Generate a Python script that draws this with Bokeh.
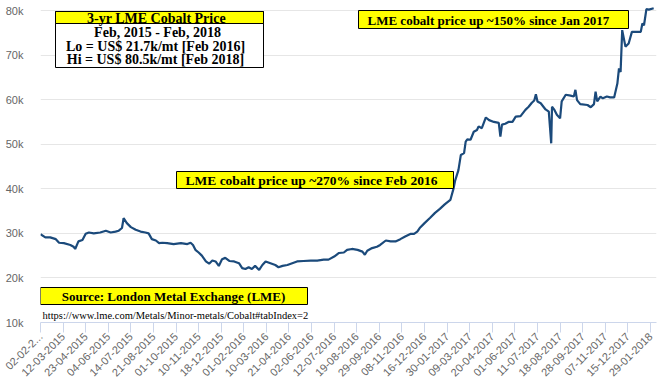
import math
from bokeh.plotting import figure
from bokeh.models import Range1d, FixedTicker, BoxAnnotation, Label, PrintfTickFormatter
from bokeh.embed import file_html
from bokeh.resources import INLINE

# ---- data (trading-day index from 02-02-2015, LME cobalt price in US$ k/mt) ----
day = [0, 6, 12, 19, 23, 29, 37, 41, 43, 47, 52, 56, 60, 66, 74, 81, 87, 93, 97, 101,
       103, 107, 112, 118, 124, 130, 134, 138, 143, 147, 151, 157, 165, 174, 182, 186,
       189, 192, 196, 200, 205, 209, 213, 217, 221, 225, 229, 234,
       240, 246, 250, 254, 258, 262, 266, 271, 275, 279, 285, 291, 295, 300, 306, 312,
       318, 326, 335, 343, 351, 357, 364, 370, 376, 380, 386, 393, 399, 402, 405, 411,
       417, 421, 428, 434, 440, 446, 452, 459, 463, 467, 470, 476, 483, 489, 495, 501,
       508, 512, 514, 518, 521, 525, 527, 529, 533, 537, 541, 543, 547, 552, 556, 562,
       568, 570, 572, 576, 580, 585, 589, 595, 601, 605, 609, 612, 614, 616, 620, 626,
       630, 633, 634, 637, 640, 644, 646, 651, 657, 661, 663, 665, 669, 678, 682, 686,
       688, 690, 694, 697, 702, 706, 711, 715, 717, 719, 721, 725, 729, 733, 744, 746,
       748, 751, 754, 760]
price_k = [29.8, 29.1, 29.1, 28.7, 27.9, 27.8, 27.4, 27.0, 26.5, 28.2, 28.5, 29.9, 30.2,
           30.0, 30.2, 30.6, 30.2, 30.4, 30.6, 31.2,
           33.4, 32.3, 31.4, 30.8, 30.4, 30.2, 30.0, 28.7, 28.4, 27.8, 27.9, 27.8, 27.6,
           27.8, 27.6, 27.9,
           27.4, 26.3, 25.7, 25.0, 23.7, 23.2, 23.9, 23.7, 22.7, 24.2, 24.5, 23.8,
           23.7, 23.3, 22.2, 22.0, 22.4, 22.0, 22.7, 21.8, 22.9, 23.7, 23.3, 22.9, 22.4,
           22.7, 22.9, 23.3,
           23.7, 23.8, 23.9, 23.9, 24.1, 24.1, 24.8, 25.6, 25.7, 26.3, 26.5, 26.3, 25.9,
           25.2, 26.1, 26.7,
           27.0, 27.4, 28.4, 28.2, 28.2, 28.7, 29.3, 29.9, 29.9, 30.4, 31.2, 32.3, 33.5,
           34.6, 35.5, 36.5,
           37.5, 40.1, 41.9, 44.2, 47.6, 48.0, 50.6, 51.1, 51.0, 52.8, 53.2, 54.0, 53.6,
           56.0, 55.4, 55.0,
           54.8, 51.7, 54.4, 54.6, 55.0, 55.0, 56.2, 56.3, 57.7, 58.4, 59.3, 59.8, 61.2,
           59.6, 59.2, 57.8,
           57.3, 50.2, 58.4, 57.7, 56.6, 55.8, 59.6, 61.1, 60.9, 60.7, 62.2, 59.9, 59.0,
           58.8, 58.3, 59.0,
           61.8, 59.6, 60.7, 60.3, 60.7, 60.5, 60.5, 63.6, 67.0, 66.2, 75.6, 71.9, 72.6,
           75.2, 75.2, 77.1,
           76.7, 80.3, 80.2, 80.5]

tick_days = [i * 28 for i in range(28)]
tick_labels = ["02-02-2...", "12-03-2015", "23-04-2015", "04-06-2015", "14-07-2015",
               "21-08-2015", "01-10-2015", "10-11-2015", "18-12-2015", "01-02-2016",
               "10-03-2016", "21-04-2016", "02-06-2016", "12-07-2016", "19-08-2016",
               "29-09-2016", "08-11-2016", "16-12-2016", "30-01-2017", "09-03-2017",
               "20-04-2017", "01-06-2017", "11-07-2017", "18-08-2017", "28-09-2017",
               "07-11-2017", "15-12-2017", "29-01-2018"]
y_ticks = [10, 20, 30, 40, 50, 60, 70, 80]

title_box = ["3-yr LME Cobalt Price", "Feb, 2015 - Feb, 2018",
             "Lo = US$ 21.7k/mt [Feb 2016]", "Hi = US$ 80.5k/mt [Feb 2018]"]
note_2017 = "LME cobalt price up ~150% since Jan 2017"
note_2016 = "LME cobalt price up ~270% since Feb 2016"
source_txt = "Source: London Metal Exchange (LME)"
url_txt = "https://www.lme.com/Metals/Minor-metals/Cobalt#tabIndex=2"

# ---- figure ----
p = figure(width=661, height=392, output_backend="svg", toolbar_location=None,
           x_range=Range1d(0, 763.5), y_range=Range1d(10, 81.35),
           min_border_left=40, min_border_right=5, min_border_top=4,
           min_border_bottom=70)
p.outline_line_color = None
p.background_fill_color = "white"
p.border_fill_color = "white"

p.line(day, price_k, line_color="#1b4a7b", line_width=2.2)

p.xgrid.grid_line_color = None
p.ygrid.grid_line_color = "#e6e6e6"
p.ygrid.ticker = FixedTicker(ticks=y_ticks)

AXIS_FONT = "Liberation Sans"
AXIS_COLOR = "#666666"

xa = p.xaxis[0]
xa.ticker = FixedTicker(ticks=tick_days, minor_ticks=[])
xa.major_label_overrides = {d: s for d, s in zip(tick_days, tick_labels)}
xa.major_label_orientation = math.pi / 4
xa.axis_line_color = "#ccd6eb"
xa.major_tick_line_color = "#ccd6eb"
xa.major_tick_out = 10
xa.major_tick_in = 0
xa.minor_tick_line_color = None
xa.major_label_text_font = AXIS_FONT
xa.major_label_text_font_size = "11px"
xa.major_label_text_color = AXIS_COLOR
xa.major_label_standoff = 2

ya = p.yaxis[0]
ya.ticker = FixedTicker(ticks=y_ticks, minor_ticks=[])
ya.formatter = PrintfTickFormatter(format="%dk")
ya.axis_line_color = None
ya.major_tick_line_color = None
ya.minor_tick_line_color = None
ya.major_tick_out = 0
ya.major_tick_in = 0
ya.major_label_text_font = AXIS_FONT
ya.major_label_text_font_size = "11px"
ya.major_label_text_color = AXIS_COLOR
ya.major_label_standoff = 17

# ---- annotations (positions in page pixels, converted to frame screen units) ----
FL, FB = 40, 322
def sx(X):
    return X - FL
def sy(Y):
    return FB - Y

def box(x0, x1, y0, y1, fill):
    p.add_layout(BoxAnnotation(left=sx(x0), right=sx(x1), top=sy(y0), bottom=sy(y1),
                               left_units="screen", right_units="screen",
                               top_units="screen", bottom_units="screen",
                               fill_color=fill, fill_alpha=1.0,
                               line_color="black", line_width=1, line_alpha=1.0))

def label(X, Y, text, align="left", size="13px", style="bold"):
    p.add_layout(Label(x=sx(X), y=sy(Y), x_units="screen", y_units="screen",
                       text=text, text_align=align, text_baseline="middle",
                       text_font="Liberation Serif", text_font_size=size,
                       text_font_style=style, text_color="black"))

YELLOW = "#ffff00"
box(55, 263, 11, 67, "white")
box(55, 263, 11, 23, YELLOW)
label(156, 17.5, title_box[0], align="center", size="14px")
label(157, 32, title_box[1], align="center", size="14px")
label(155, 45.5, title_box[2], align="center", size="14px")
label(155, 59, title_box[3], align="center", size="14px")

box(358, 628, 10, 28, YELLOW)
label(367, 19.5, note_2017)

box(176, 453, 171, 188, YELLOW)
label(185, 180, note_2016, size="13.5px")

box(40, 307, 287, 304, YELLOW)
label(173, 296, source_txt, align="center")

label(42, 315, url_txt, size="10.5px", style="normal")

open("out.html", "w").write(file_html(p, INLINE))
